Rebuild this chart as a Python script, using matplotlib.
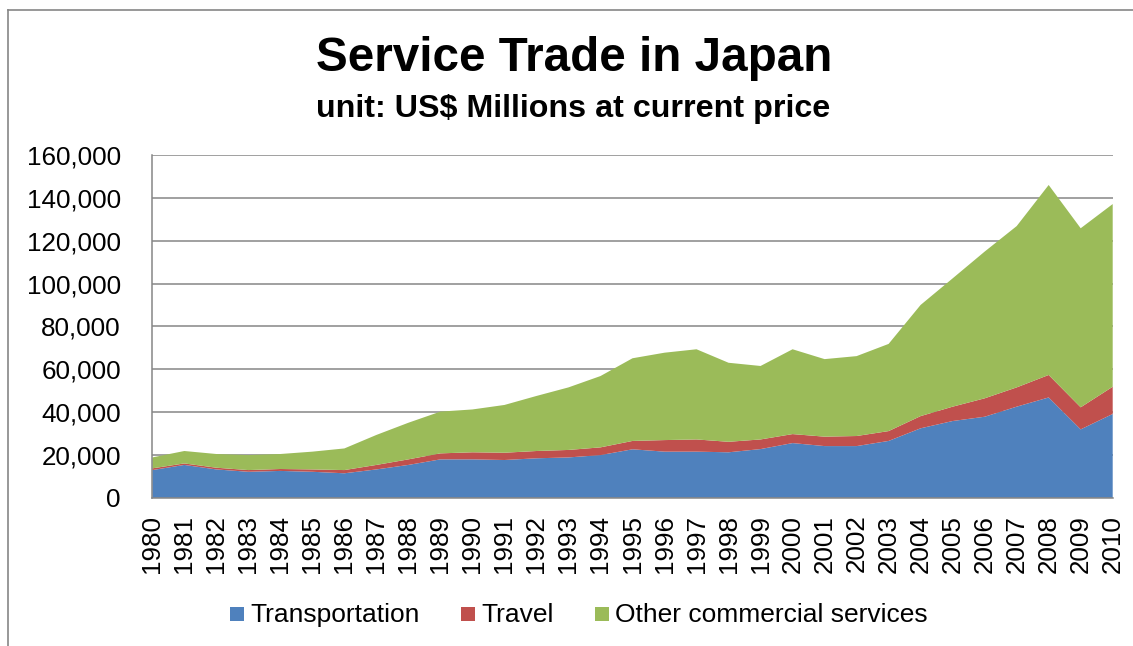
import matplotlib
matplotlib.use("Agg")
import matplotlib.pyplot as plt
from matplotlib.patches import Rectangle
from matplotlib.lines import Line2D
from matplotlib.ticker import FuncFormatter, MultipleLocator

plt.rcParams["font.family"] = ["Liberation Sans", "DejaVu Sans"]

years = list(range(1980, 2011))

# US$ millions at current prices
transportation = [12900, 15300, 13200, 12100, 12500, 12100, 11400, 13200, 15300, 17900,
                  17900, 17600, 18400, 18800, 19900, 22600, 21500, 21500, 21200, 22700,
                  25500, 24100, 24100, 26500, 32400, 35800, 37800, 42500, 46800, 31900,
                  39100]
travel = [800, 700, 800, 800, 900, 1100, 1500, 2100, 2600, 2800,
          3300, 3400, 3400, 3500, 3600, 3900, 5400, 5700, 4900, 4500,
          4200, 4400, 4700, 4600, 5700, 6700, 8600, 9000, 10500, 10300,
          12700]
other_services = [5100, 5800, 6400, 7000, 7000, 8300, 10100, 14000, 17100, 19500,
                  20000, 22300, 25700, 29200, 33300, 38600, 40800, 42100, 36900, 34300,
                  39600, 36200, 37300, 40700, 51900, 59900, 68500, 75300, 88700, 83600,
                  85300]

series_names = ["Transportation", "Travel", "Other commercial services"]
series_colors = ["#4F81BD", "#C0504D", "#9BBB59"]

title = "Service Trade in Japan"
subtitle = "unit: US$ Millions at current price"

W, H = 1133, 646
fig = plt.figure(figsize=(W / 100, H / 100), dpi=100)
fig.patch.set_facecolor("white")

grid_col = "#868686"

# chart-area border (runs off the right and bottom edges)
fig.add_artist(Line2D([8 / W, 1.0], [1 - 10 / H, 1 - 10 / H], color=grid_col, lw=1.2,
                      transform=fig.transFigure))
fig.add_artist(Line2D([8 / W, 8 / W], [0.0, 1 - 10 / H], color=grid_col, lw=1.2,
                      transform=fig.transFigure))

left, right, top, bottom = 152.3, 1112.7, 155.0, 497.7
ax = fig.add_axes([left / W, 1 - bottom / H, (right - left) / W, (bottom - top) / H])

ax.stackplot(years, transportation, travel, other_services,
             colors=series_colors, linewidth=0, zorder=2)

ax.set_xlim(1980, 2010)
ax.set_ylim(0, 160000)
ax.yaxis.set_major_locator(MultipleLocator(20000))
ax.yaxis.set_major_formatter(FuncFormatter(lambda v, p: f"{int(v):,}"))
ax.set_xticks(years)
ax.set_xticklabels([str(y) for y in years], rotation=90)

ax.set_axisbelow(True)
ax.grid(axis="y", color=grid_col, linewidth=1.1, zorder=0)
ax.grid(axis="x", visible=False)

for s in ["top", "right"]:
    ax.spines[s].set_visible(False)
for s in ["left", "bottom"]:
    ax.spines[s].set_color(grid_col)
    ax.spines[s].set_linewidth(1.1)
    ax.spines[s].set_zorder(3)

ax.tick_params(axis="y", length=0, pad=22.7, labelsize=18.7, labelcolor="black")
ax.tick_params(axis="x", length=0, pad=12.2, labelsize=18.7, labelcolor="black")

# titles
fig.text(574.5 / W, 1 - 70.7 / H, title, ha="center", va="baseline",
         fontsize=34.3, fontweight="bold")
fig.text(573 / W, 1 - 117.3 / H, subtitle, ha="center", va="baseline",
         fontsize=23.2, fontweight="bold")

# legend row
legend_x = [230.0, 460.8, 594.6]
for x0, name, col in zip(legend_x, series_names, series_colors):
    fig.add_artist(Rectangle((x0 / W, 1 - 620.7 / H), 14 / W, 13.4 / H,
                             transform=fig.transFigure, facecolor=col,
                             edgecolor="none"))
    fig.text((x0 + 20.5) / W, 1 - 622 / H, name, ha="left", va="baseline",
             fontsize=19.0)

fig.savefig("out.png", dpi=100, facecolor="white")
